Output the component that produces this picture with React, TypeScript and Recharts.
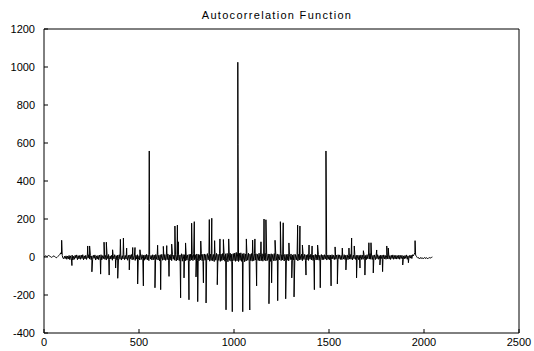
import React from "react";
import { LineChart, Line, XAxis, YAxis, ReferenceArea } from "recharts";

const TITLE = "Autocorrelation Function";

const xTicks = [0, 500, 1000, 1500, 2000, 2500];
const yTicks = [-400, -200, 0, 200, 400, 600, 800, 1000, 1200];
const xDomain: [number, number] = [0, 2500];
const yDomain: [number, number] = [-400, 1200];

const BASE_STEP = 4;
const baseline = [
  0, 3, 6, 4, 2, 5, 8, 6, 3, 1, -2, 0, 4, 6, 3, -1,
  -4, -2, 2, 6, 9, 14, 22, 16, 8, -6, -10, 4, -8, 6, -12, 5,
  -10, 8, -14, 6, -9, 10, -16, 4, -12, 9, -6, 11, -14, 7, -10, 8,
  -12, 10, -8, 12, -15, 6, -10, 9, -13, 7, -6, 12, -11, 8, -14, 6,
  -13, 9, -7, 11, -16, 6, -11, 8, -14, 10, -8, 12, -15, 7, -9, 11,
  -12, 8, -16, 10, -9, 13, -14, 6, -11, 9, -17, 8, -10, 12, -13, 7,
  -15, 10, -8, 12, -12, 9, -16, 7, -10, 13, -14, 8, -11, 10, -17, 9,
  -12, 11, -9, 13, -15, 8, -13, 10, -18, 9, -11, 12, -14, 7, -16, 10,
  -13, 12, -10, 9, -17, 11, -12, 14, -15, 10, -19, 13, -11, 8, -16, 12,
  -14, 10, -18, 13, -12, 15, -16, 9, -20, 12, -13, 14, -17, 10, -15, 13,
  -18, 12, -14, 16, -20, 11, -15, 13, -19, 14, -12, 10, -17, 15, -21, 12,
  -16, 14, -19, 11, -14, 17, -22, 13, -15, 12, -20, 16, -17, 11, -18, 14,
  -21, 15, -16, 13, -19, 17, -14, 12, -22, 16, -18, 14, -20, 12, -16, 18,
  -19, 14, -23, 16, -17, 13, -21, 18, -15, 14, -22, 15, -18, 17, -20, 13,
  -24, 16, -17, 19, -21, 14, -18, 17, -23, 15, -19, 18, -16, 14, -22, 17,
  -20, 19, -25, 16, -18, 20, -22, 15, -24, 18, -19, 21, -23, 24, -20, 26,
  -24, 20, -18, 22, -23, 17, -20, 19, -25, 16, -21, 18, -17, 20, -24, 15,
  -19, 18, -22, 16, -20, 19, -16, 17, -23, 14, -18, 20, -21, 15, -19, 17,
  -22, 16, -17, 19, -21, 13, -18, 16, -20, 15, -23, 17, -16, 14, -19, 18,
  -20, 14, -17, 16, -22, 13, -15, 18, -19, 12, -16, 15, -21, 14, -18, 13,
  -17, 15, -20, 12, -14, 16, -19, 11, -16, 14, -18, 13, -15, 12, -20, 14,
  -16, 12, -14, 15, -19, 10, -13, 14, -17, 11, -15, 13, -18, 12, -12, 14,
  -15, 13, -18, 10, -12, 14, -16, 11, -14, 12, -17, 9, -13, 13, -15, 10,
  -14, 12, -11, 13, -16, 9, -12, 11, -15, 10, -13, 12, -10, 9, -14, 11,
  -12, 10, -15, 12, -9, 11, -13, 8, -14, 10, -11, 12, -13, 9, -10, 11,
  -14, 9, -11, 13, -12, 8, -15, 10, -9, 12, -13, 9, -11, 10, -14, 8,
  -10, 11, -13, 9, -12, 14, -10, 8, -14, 12, -9, 16, -11, 18, -12, 10,
  -13, 9, -10, 11, -14, 8, -9, 12, -12, 7, -15, 10, -8, 9, -13, 11,
  -10, 8, -12, 10, -9, 14, -11, 7, -13, 9, -8, 11, -12, 8, -10, 9,
  -11, 7, -9, 10, -12, 8, -8, 9, -13, 6, -10, 8, -7, 11, -12, 6,
  -9, 8, -6, 10, -8, 12, 6, 14, 22, 10, 4, -2, -6, -3, -10, -6,
  -2, -8, -4, -10, -6, -2, -8, -4, -6, -9, -5, -3, -6, -4, -2, 0,
];

// isolated spikes
const spikeLags = [
  93, 147, 230, 240, 252, 298, 316, 328, 343, 361, 377, 388, 402, 418, 435, 449,
  467, 479, 493, 505, 523, 554, 555, 584, 598, 614, 628, 646, 658, 672, 689, 702,
  707, 719, 737, 745, 763, 777, 791, 800, 809, 825, 839, 853, 870, 883, 898, 912,
  926, 944, 958, 972, 991, 1020, 1021, 1046, 1065, 1083, 1098, 1110, 1119, 1142,
  1158, 1168, 1184, 1198, 1216, 1230, 1244, 1259, 1272, 1289, 1304, 1316, 1335,
  1347, 1360, 1379, 1395, 1411, 1423, 1440, 1454, 1484, 1511, 1532, 1544, 1570,
  1589, 1605, 1619, 1633, 1645, 1663, 1681, 1689, 1710, 1721, 1733, 1751, 1768,
  1782, 1804, 1812, 1888, 1918, 1953,
];
const spikeValues = [
  88, -45, 58, 58, -78, -90, 78, 78, -95, 38, -58, -112, 93, 100, 47, -68,
  50, 50, -142, 38, -152, 558, 282, -162, 62, -172, 56, 60, -102, 68, 163, 168,
  80, -215, -110, 74, -225, 178, 186, -105, -235, 84, -136, -242, 197, 204, 86, -146,
  95, 92, -278, 95, -288, 1025, 592, -288, 95, -279, 89, 95, -152, 80,
  200, 196, -246, -136, 88, -230, 186, 180, -220, 74, -110, -210, 168,
  163, 63, -95, 63, 58, -172, 63, -162, 558, -152, 53, -142, 47,
  -68, 47, 100, 58, -110, -58, 33, -95, 75, 75, -84, 37, -42,
  -77, 58, 47, -42, -30, 86,
];

type Pt = { lag: number; value: number };
const chartData: Pt[] = [
  ...baseline.map((v, i) => ({ lag: i * BASE_STEP, value: v })),
  ...spikeLags.map((l, i) => ({ lag: l, value: spikeValues[i] })),
].sort((a, b) => a.lag - b.lag);

const FONT = "'Liberation Sans', Arial, Helvetica, sans-serif";
const TICK_LEN = 4;

const BottomTick = (p: any) => (
  <g>
    <path d={`M${p.x},${p.y}V${p.y - TICK_LEN}`} stroke="#000" strokeWidth={1} fill="none" />
    <text x={p.x} y={p.y + 5} dy="0.71em" textAnchor="middle" fontSize={11} fontFamily={FONT} fill="#000">
      {p.payload.value}
    </text>
  </g>
);
const TopTick = (p: any) => (
  <path d={`M${p.x},${p.y}V${p.y + TICK_LEN}`} stroke="#000" strokeWidth={1} fill="none" />
);
const LeftTick = (p: any) => (
  <g>
    <path d={`M${p.x},${p.y}H${p.x + TICK_LEN}`} stroke="#000" strokeWidth={1} fill="none" />
    <text x={p.x - 9} y={p.y} dy="0.355em" textAnchor="end" fontSize={11} fontFamily={FONT} fill="#000">
      {p.payload.value}
    </text>
  </g>
);
const RightTick = (p: any) => (
  <path d={`M${p.x},${p.y}H${p.x - TICK_LEN}`} stroke="#000" strokeWidth={1} fill="none" />
);

export default function App() {
  return (
    <div style={{ position: "absolute", left: 0, top: 0, width: 534, height: 351, background: "#fff" }}>
      <div
        style={{
          position: "absolute",
          left: 127,
          top: 10,
          width: 300,
          textAlign: "center",
          fontFamily: FONT,
          fontSize: 11,
          lineHeight: "11px",
          letterSpacing: 1.3,
          color: "#000",
        }}
      >
        {TITLE}
      </div>
      <LineChart
        width={534}
        height={351}
        data={chartData}
        margin={{ top: 29, right: 15, bottom: 0, left: 0 }}
      >
        <XAxis
          xAxisId="bottom"
          dataKey="lag"
          type="number"
          domain={xDomain}
          ticks={xTicks}
          allowDataOverflow
          height={18}
          tickSize={0}
          tickMargin={0}
          tickLine={false}
          axisLine={false}
          tick={BottomTick}
          interval={0}
        />
        <XAxis
          xAxisId="top"
          orientation="top"
          dataKey="lag"
          type="number"
          domain={xDomain}
          ticks={xTicks}
          allowDataOverflow
          height={0}
          tickSize={0}
          tickMargin={0}
          tickLine={false}
          axisLine={false}
          tick={TopTick}
          interval={0}
        />
        <YAxis
          yAxisId="left"
          type="number"
          domain={yDomain}
          ticks={yTicks}
          allowDataOverflow
          width={44}
          tickSize={0}
          tickMargin={0}
          tickLine={false}
          axisLine={false}
          tick={LeftTick}
          interval={0}
        />
        <YAxis
          yAxisId="right"
          orientation="right"
          type="number"
          domain={yDomain}
          ticks={yTicks}
          allowDataOverflow
          width={0}
          tickSize={0}
          tickMargin={0}
          tickLine={false}
          axisLine={false}
          tick={RightTick}
          interval={0}
        />
        <ReferenceArea
          xAxisId="bottom"
          yAxisId="left"
          x1={xDomain[0]}
          x2={xDomain[1]}
          y1={yDomain[0]}
          y2={yDomain[1]}
          fill="none"
          fillOpacity={0}
          stroke="#000"
          strokeWidth={1}
          strokeOpacity={1}
          ifOverflow="visible"
        />
        <Line
          xAxisId="bottom"
          yAxisId="left"
          dataKey="value"
          type="linear"
          stroke="#000"
          strokeWidth={1}
          dot={false}
          activeDot={false}
          isAnimationActive={false}
        />
      </LineChart>
    </div>
  );
}
